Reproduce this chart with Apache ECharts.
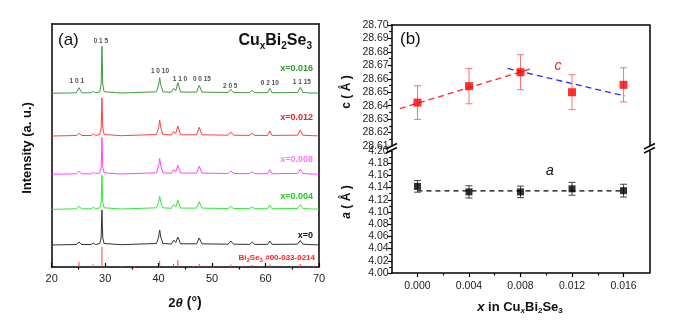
<!DOCTYPE html>
<html><head><meta charset="utf-8">
<script src="https://cdn.jsdelivr.net/npm/echarts@6/dist/echarts.min.js"></script>
<style>html,body{margin:0;padding:0;background:#fff}#c{width:676px;height:332px}</style>
</head><body><div id="c"></div>
<script>
// ---------- Panel (a): XRD patterns ----------
const twoTheta = [20.0, 24.6, 25.1, 25.6, 27.4, 27.8, 28.2, 29.0, 29.25, 29.4, 29.55, 29.8, 33.0, 39.6, 40.0, 40.2, 40.4, 40.8, 42.4, 42.8, 43.2, 43.6, 44.1, 47.1, 47.6, 48.1, 53.0, 53.5, 54.0, 57.0, 57.5, 58.0, 60.4, 60.8, 61.2, 66.0, 66.5, 67.0, 68.7, 69.0, 69.3, 70.0];
const intX0000 = [0, 0.5, 3, 0.5, 0.5, 2, 0.5, 1.5, 7, 35, 7, 1.5, 0.3, 1.5, 8, 15, 8, 1.5, 1, 5, 2.5, 8, 1.2, 1.2, 7, 1.2, 0.8, 4, 0.8, 0.6, 3, 0.6, 0.6, 4, 0.6, 0.8, 4.5, 0.8, 0.3, 1.5, 0.3, 0];
const intX0004 = [0, 0.5, 3, 0.5, 0.5, 2, 0.5, 1.5, 7, 34, 7, 1.5, 0.3, 1.5, 7, 13, 7, 1.5, 1, 5, 2.5, 9, 1.2, 1.2, 7.6, 1.2, 0.8, 3, 0.8, 0.6, 2.5, 0.6, 0.6, 4, 0.6, 0.8, 4.5, 0.8, 0.3, 1.2, 0.3, 0];
const intX0008 = [0, 0.5, 3, 0.5, 0.5, 2, 0.5, 1.5, 7, 37, 7, 1.5, 0.3, 1.5, 8.5, 16, 8.5, 1.5, 1, 5, 2.5, 9, 1.2, 1.2, 8, 1.2, 0.8, 3.5, 0.8, 0.6, 2.5, 0.6, 0.6, 4.5, 0.6, 0.8, 5, 0.8, 0.3, 1.2, 0.3, 0];
const intX0012 = [0, 0.5, 2.7, 0.5, 0.5, 2, 0.5, 1.5, 8, 38, 8, 1.5, 0.3, 1.5, 8.5, 16, 8.5, 1.5, 1, 4.5, 2.5, 10, 1.2, 1.2, 8.7, 1.2, 0.8, 4, 0.8, 0.6, 2.7, 0.6, 0.6, 5, 0.6, 0.8, 6, 0.8, 0.3, 1.5, 0.3, 0];
const intX0016 = [0, 0.5, 5.6, 0.5, 0.5, 2, 0.5, 1.5, 9, 47, 9, 1.5, 0.3, 1.5, 8.5, 15.6, 8.5, 1.5, 1, 5, 2.5, 10.6, 1.2, 1.2, 8, 1.2, 0.8, 4, 0.8, 0.6, 3, 0.6, 0.6, 5, 0.6, 0.8, 6, 0.8, 0.3, 1.5, 0.3, 0];
const stackOffsets = [22, 57.7, 92.7, 131, 173.7];   // vertical offsets of the stacked patterns (a.u.)
const patternNames = ['x=0', 'x=0.004', 'x=0.008', 'x=0.012', 'x=0.016'];
const refAngles  = [25.1, 27.7, 29.4, 33.1, 35.5, 40.2, 42.8, 43.6, 46.5, 47.6, 48.9, 50.2, 51.3, 53.5, 55.6, 57.5, 58.8, 60.8, 62.2, 64.8, 66.5, 67.9, 69.1];
const refHeights = [5, 2.5, 20, 1, 1, 6, 3, 7, 1, 3, 1.5, 1.5, 1, 2.5, 1, 2, 1, 2.5, 1.5, 1, 3, 1.5, 1.5];
const hklLabels = ['1 0 1', '0 1 5', '1 0 10', '1 1 0', '0 0 15', '2 0 5', '0 2 10', '1 1 15'];
const hklAngles = [24.7, 29.2, 40.25, 44.0, 48.1, 53.4, 60.8, 66.8];
const hklHeights = [186, 226, 196, 188, 188, 180.5, 183.5, 184.5];

// ---------- Panel (b): lattice parameters ----------
const xCu = [0.000, 0.004, 0.008, 0.012, 0.016];
const cVal = [28.6423, 28.6545, 28.6649, 28.6500, 28.6555];
const cErr = [0.0125, 0.0131, 0.0130, 0.0130, 0.0127];
const aVal = [4.142, 4.133, 4.133, 4.138, 4.135];
const aErr = [0.0095, 0.0100, 0.0095, 0.0105, 0.0105];
const cFitRedX = [-0.00137, 0.00874], cFitRedY = [28.6378, 28.6672];
const cFitBlueX = [0.0070, 0.0161],  cFitBlueY = [28.6677, 28.6472];
const aFitX = [0.000, 0.016],        aFitY = [4.1345, 4.1345];
const xTickLabels = [0.000, 0.004, 0.008, 0.012, 0.016];
const xMinorTicks = [0.002, 0.006, 0.010, 0.014];
const xrdMinorTicks = [25, 35, 45, 55, 65];

const FONT = 'Liberation Sans, Arial, sans-serif';
const patternColors = ['#333333', '#33e633', '#ff44ff', '#ff4040', '#3c9a3c'];
const labelColors = ['#111111', '#22cc22', '#ff77ff', '#ee2222', '#2e9a2e'];

const chart = echarts.init(document.getElementById('c'), null, {renderer: 'canvas'});

const axisLineBlack = {show: true, onZero: false, lineStyle: {color: '#000', width: 1.5}};
const lineOnly = {axisLine: axisLineBlack, axisTick: {show: false}, axisLabel: {show: false}, splitLine: {show: false}};

function errRender(params, api) {
  const x = api.value(0), y = api.value(1), e = api.value(2);
  const top = api.coord([x, y + e]), bot = api.coord([x, y - e]);
  const w = 3.5;
  const st = api.style({stroke: api.visual('color'), fill: null, lineWidth: 1});
  return {type: 'group', children: [
    {type: 'line', shape: {x1: top[0], y1: top[1], x2: bot[0], y2: bot[1]}, style: st},
    {type: 'line', shape: {x1: top[0] - w, y1: top[1], x2: top[0] + w, y2: top[1]}, style: st},
    {type: 'line', shape: {x1: bot[0] - w, y1: bot[1], x2: bot[0] + w, y2: bot[1]}, style: st}
  ]};
}

const patterns = [intX0000, intX0004, intX0008, intX0012, intX0016];
const series = patterns.map((arr, k) => ({
  type: 'line', xAxisIndex: 0, yAxisIndex: 0, name: patternNames[k],
  data: twoTheta.map((t, i) => [t, arr[i] + stackOffsets[k]]),
  showSymbol: false, symbol: 'none', lineStyle: {color: patternColors[k], width: 1}, silent: true, z: 3
}));
series.push({
  type: 'bar', xAxisIndex: 0, yAxisIndex: 0, barWidth: 1,
  data: refAngles.map((a, i) => [a, refHeights[i]]),
  itemStyle: {color: '#ff3b3b'}, silent: true, z: 2
});
series.push({
  type: 'scatter', xAxisIndex: 0, yAxisIndex: 0, symbolSize: 0,
  data: hklLabels.map((n, i) => ({name: n, value: [hklAngles[i], hklHeights[i]]})),
  label: {show: true, position: 'inside', formatter: p => p.name, fontSize: 6.5, fontFamily: FONT, color: '#222', fontWeight: 'bold'},
  silent: true, z: 5
});
// c panel
series.push({type: 'line', xAxisIndex: 3, yAxisIndex: 2, data: cFitRedX.map((x, i) => [x, cFitRedY[i]]), symbol: 'none',
  lineStyle: {color: '#ff2a2a', width: 1.3, type: [6, 4]}, silent: true, z: 2});
series.push({type: 'line', xAxisIndex: 3, yAxisIndex: 2, data: cFitBlueX.map((x, i) => [x, cFitBlueY[i]]), symbol: 'none',
  lineStyle: {color: '#2a2aff', width: 1.3, type: [6, 4]}, silent: true, z: 2});
series.push({type: 'custom', xAxisIndex: 3, yAxisIndex: 2, renderItem: errRender,
  data: xCu.map((x, i) => [x, cVal[i], cErr[i]]), itemStyle: {color: '#ff7070'}, silent: true, z: 3});
series.push({type: 'scatter', xAxisIndex: 3, yAxisIndex: 2, symbol: 'rect', symbolSize: 8,
  data: xCu.map((x, i) => [x, cVal[i]]), itemStyle: {color: '#ff0000'}, silent: true, z: 4});
// a panel
series.push({type: 'line', xAxisIndex: 5, yAxisIndex: 4, data: aFitX.map((x, i) => [x, aFitY[i]]), symbol: 'none',
  lineStyle: {color: '#000', width: 1.2, type: [5, 4]}, silent: true, z: 2});
series.push({type: 'custom', xAxisIndex: 5, yAxisIndex: 4, renderItem: errRender,
  data: xCu.map((x, i) => [x, aVal[i], aErr[i]]), itemStyle: {color: '#444'}, silent: true, z: 3});
series.push({type: 'scatter', xAxisIndex: 5, yAxisIndex: 4, symbol: 'rect', symbolSize: 7,
  data: xCu.map((x, i) => [x, aVal[i]]), itemStyle: {color: '#000'}, silent: true, z: 4});

const tickLblStyle = {fontSize: 10.5, fontFamily: FONT, color: '#222'};

const option = {
  animation: false,
  backgroundColor: '#fff',
  grid: [
    {left: 51.7, top: 24, width: 267.3, height: 243, show: false},
    {left: 391.7, top: 25, width: 257.6, height: 121},
    {left: 391.7, top: 151, width: 257.6, height: 122}
  ],
  xAxis: [
    {gridIndex: 0, type: 'value', min: 20, max: 70, interval: 10, axisLine: axisLineBlack,
      axisTick: {show: true, inside: true, length: 4, lineStyle: {color: '#000', width: 1.2}},
      axisLabel: Object.assign({margin: 6, fontSize: 11}, {fontFamily: FONT, color: '#222'}), splitLine: {show: false}},
    {gridIndex: 0, type: 'value', min: 20, max: 70, position: 'bottom', axisLine: {show: false, onZero: false},
      axisTick: {show: true, length: 2.5, customValues: xrdMinorTicks, lineStyle: {color: '#000', width: 1.2}},
      axisLabel: {show: false}, splitLine: {show: false}},
    Object.assign({gridIndex: 0, type: 'value', min: 20, max: 70, position: 'top'}, lineOnly),
    {gridIndex: 1, type: 'value', min: -0.002, max: 0.018, axisLine: {show: false, onZero: false}, axisTick: {show: false}, axisLabel: {show: false}, splitLine: {show: false}},
    Object.assign({gridIndex: 1, type: 'value', min: -0.002, max: 0.018, position: 'top'}, lineOnly),
    {gridIndex: 2, type: 'value', min: -0.002, max: 0.018, axisLine: axisLineBlack,
      axisTick: {show: true, length: 4, customValues: xTickLabels, lineStyle: {color: '#000', width: 1.2}},
      axisLabel: Object.assign({customValues: xTickLabels, margin: 8, formatter: v => v.toFixed(3)}, tickLblStyle),
      splitLine: {show: false}},
    {gridIndex: 2, type: 'value', min: -0.002, max: 0.018, position: 'bottom', axisLine: {show: false, onZero: false},
      axisTick: {show: true, length: 2.5, customValues: xMinorTicks, lineStyle: {color: '#000', width: 1.2}},
      axisLabel: {show: false}, splitLine: {show: false}}
  ],
  yAxis: [
    Object.assign({gridIndex: 0, type: 'value', min: 0, max: 243, position: 'left'}, lineOnly),
    Object.assign({gridIndex: 0, type: 'value', min: 0, max: 243, position: 'right'}, lineOnly),
    {gridIndex: 1, type: 'value', min: 28.61, max: 28.70, interval: 0.01, position: 'left', axisLine: axisLineBlack,
      axisTick: {show: true, length: 4, lineStyle: {color: '#000', width: 1.2}},
      minorTick: {show: true, splitNumber: 2, length: 2.5, lineStyle: {color: '#000', width: 1.2}},
      axisLabel: Object.assign({margin: 3, formatter: v => v.toFixed(2)}, tickLblStyle), splitLine: {show: false}},
    Object.assign({gridIndex: 1, type: 'value', min: 28.61, max: 28.70, position: 'right'}, lineOnly),
    {gridIndex: 2, type: 'value', min: 4.00, max: 4.20, interval: 0.02, position: 'left', axisLine: axisLineBlack,
      axisTick: {show: true, length: 4, lineStyle: {color: '#000', width: 1.2}},
      minorTick: {show: true, splitNumber: 2, length: 2.5, lineStyle: {color: '#000', width: 1.2}},
      axisLabel: Object.assign({margin: 3, formatter: v => v.toFixed(2)}, tickLblStyle), splitLine: {show: false}},
    Object.assign({gridIndex: 2, type: 'value', min: 4.00, max: 4.20, position: 'right'}, lineOnly)
  ],
  series: series,
  graphic: [
    // panel (a) texts
    {type: 'text', left: 58, top: 32, style: {text: '(a)', font: '17px ' + FONT, fill: '#111'}},
    {type: 'text', right: 364, top: 33, style: {
      text: '{n|Cu}{s|x}{n|Bi}{s|2}{n|Se}{s|3}',
      rich: {n: {fontSize: 16, fontWeight: 'bold', fontFamily: FONT, fill: '#111'},
             s: {fontSize: 10, fontWeight: 'bold', fontFamily: FONT, fill: '#111', padding: [10, 0, 0, 0]}}}},
    {type: 'text', x: 313, y: 69, style: {text: 'x=0.016', font: 'bold 9px ' + FONT, fill: labelColors[4], align: 'right', verticalAlign: 'middle'}},
    {type: 'text', x: 313, y: 118, style: {text: 'x=0.012', font: 'bold 9px ' + FONT, fill: labelColors[3], align: 'right', verticalAlign: 'middle'}},
    {type: 'text', x: 313, y: 160, style: {text: 'x=0.008', font: 'bold 9px ' + FONT, fill: labelColors[2], align: 'right', verticalAlign: 'middle'}},
    {type: 'text', x: 313, y: 197, style: {text: 'x=0.004', font: 'bold 9px ' + FONT, fill: labelColors[1], align: 'right', verticalAlign: 'middle'}},
    {type: 'text', x: 313, y: 236, style: {text: 'x=0', font: 'bold 9px ' + FONT, fill: labelColors[0], align: 'right', verticalAlign: 'middle'}},
    {type: 'text', x: 315, y: 258, style: {
      text: '{n|Bi}{s|2}{n|Se}{s|3}{n| #00-033-0214}', align: 'right', verticalAlign: 'middle',
      rich: {n: {fontSize: 8, fontWeight: 'bold', fontFamily: FONT, fill: '#ff2222'},
             s: {fontSize: 6, fontWeight: 'bold', fontFamily: FONT, fill: '#ff2222', padding: [5, 0, 0, 0]}}}},
    {type: 'text', x: 27, y: 148, rotation: Math.PI / 2, style: {text: 'Intensity (a. u.)', font: 'bold 13px ' + FONT, fill: '#111', align: 'center', verticalAlign: 'middle'}},
    {type: 'text', x: 185, y: 303, style: {
      text: '{n|2}{i|θ}{p| (°)}', align: 'center', verticalAlign: 'middle',
      rich: {n: {fontSize: 13, fontWeight: 'bold', fontFamily: FONT, fill: '#111'},
             i: {fontSize: 13, fontWeight: 'bold', fontStyle: 'italic', fontFamily: FONT, fill: '#111'},
             p: {fontSize: 14, fontWeight: 'bold', fontFamily: FONT, fill: '#111'}}}},
    // panel (b) texts
    {type: 'text', left: 400, top: 31, style: {text: '(b)', font: '17px ' + FONT, fill: '#111'}},
    {type: 'text', x: 558, y: 66, style: {text: 'c', font: 'italic 14px ' + FONT, fill: '#ee2222', align: 'center', verticalAlign: 'middle'}},
    {type: 'text', x: 550, y: 171, style: {text: 'a', font: 'italic 14px ' + FONT, fill: '#111', align: 'center', verticalAlign: 'middle'}},
    {type: 'text', x: 347, y: 92, rotation: Math.PI / 2, style: {text: 'c ( Å )', font: 'bold 12px ' + FONT, fill: '#111', align: 'center', verticalAlign: 'middle'}},
    {type: 'text', x: 347, y: 202, rotation: Math.PI / 2, style: {
      text: '{i|a}{n| ( Å )}', align: 'center', verticalAlign: 'middle',
      rich: {i: {fontSize: 12, fontWeight: 'bold', fontStyle: 'italic', fontFamily: FONT, fill: '#111'},
             n: {fontSize: 12, fontWeight: 'bold', fontFamily: FONT, fill: '#111'}}}},
    {type: 'text', x: 520, y: 307, style: {
      text: '{i|x}{n| in Cu}{si|x}{n|Bi}{s|2}{n|Se}{s|3}', align: 'center', verticalAlign: 'middle',
      rich: {i: {fontSize: 13, fontWeight: 'bold', fontStyle: 'italic', fontFamily: FONT, fill: '#111'},
             n: {fontSize: 13, fontWeight: 'bold', fontFamily: FONT, fill: '#111'},
             si: {fontSize: 8, fontWeight: 'bold', fontStyle: 'italic', fontFamily: FONT, fill: '#111', padding: [8, 0, 0, 0]},
             s: {fontSize: 8, fontWeight: 'bold', fontFamily: FONT, fill: '#111', padding: [8, 0, 0, 0]}}}},
    // axis break marks
    {type: 'rect', shape: {x: 388, y: 146, width: 8, height: 5}, style: {fill: '#fff'}, z: 100},
    {type: 'line', shape: {x1: 386, y1: 149, x2: 397, y2: 143.5}, style: {stroke: '#000', lineWidth: 1.5}, z: 101},
    {type: 'line', shape: {x1: 386, y1: 153, x2: 397, y2: 147.5}, style: {stroke: '#000', lineWidth: 1.5}, z: 101},
    {type: 'rect', shape: {x: 645, y: 146, width: 8, height: 5}, style: {fill: '#fff'}, z: 100},
    {type: 'line', shape: {x1: 644, y1: 149, x2: 655, y2: 143.5}, style: {stroke: '#000', lineWidth: 1.5}, z: 101},
    {type: 'line', shape: {x1: 644, y1: 153, x2: 655, y2: 147.5}, style: {stroke: '#000', lineWidth: 1.5}, z: 101}
  ]
};
chart.setOption(option);
</script>
</body></html>
